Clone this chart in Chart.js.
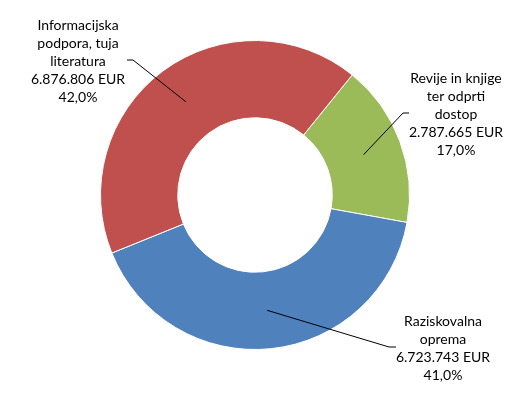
<!DOCTYPE html>
<html>
<head>
<meta charset="utf-8">
<script src="https://cdn.jsdelivr.net/npm/chart.js@4"></script>
<style>
  html, body { margin: 0; padding: 0; background: #fff; }
  #wrap { width: 508px; height: 393px; }
</style>
</head>
<body>
<div id="wrap"><canvas id="donutChart" width="508" height="393"></canvas></div>
<script>
// Data (clockwise from the top-right)
const categories = ['Revije in knjige ter odprti dostop', 'Raziskovalna oprema', 'Informacijska podpora, tuja literatura'];
const labelLines = [
    ['Revije in knjige', 'ter odprti', 'dostop'],
    ['Raziskovalna', 'oprema'],
    ['Informacijska', 'podpora, tuja', 'literatura']
];
const amounts = [2787665, 6723743, 6876806];
const sliceColors = ['#9BBB59', '#4F81BD', '#C0504D'];

// where each label block sits and how its leader line bends
const labelPlacement = [
    { x: 456, y: 78, elbowX: 403, elbowY: 113, endX: 409 },
    { x: 443, y: 321, elbowX: 389, elbowY: 347, endX: 396 },
    { x: 78, y: 25, elbowX: 133, elbowY: 60, endX: 127 }
];

const total = amounts.reduce((a, b) => a + b, 0);

function fmtEur(v) {
    return v.toString().replace(/\B(?=(\d{3})+(?!\d))/g, '.') + ' EUR';
}
function fmtPct(v) {
    return (v / total * 100).toFixed(1).replace('.', ',') + '%';
}

// Draw callout labels with leader lines anchored on each slice
const calloutPlugin = {
    id: 'callouts',
    afterDatasetsDraw(chart) {
        const ctx = chart.ctx;
        const meta = chart.getDatasetMeta(0);
        ctx.save();
        ctx.font = '14px Lato';
        ctx.fillStyle = '#000';
        ctx.textAlign = 'center';
        ctx.textBaseline = 'middle';
        ctx.strokeStyle = '#000';
        ctx.lineWidth = 1;
        meta.data.forEach((arc, i) => {
            const p = arc.tooltipPosition();
            const place = labelPlacement[i];
            ctx.beginPath();
            ctx.moveTo(p.x, p.y);
            ctx.lineTo(place.elbowX, place.elbowY);
            ctx.lineTo(place.endX, place.elbowY);
            ctx.stroke();

            const lines = labelLines[i].concat([fmtEur(amounts[i]), fmtPct(amounts[i])]);
            lines.forEach((line, k) => {
                ctx.fillText(line, place.x, place.y + k * 18);
            });
        });
        ctx.restore();
    }
};

const ctx = document.getElementById('donutChart').getContext('2d');
const donutChart = new Chart(ctx, {
    type: 'doughnut',
    data: {
        labels: categories,
        datasets: [{
            data: amounts,
            backgroundColor: sliceColors,
            borderColor: '#ffffff',
            borderWidth: 1
        }]
    },
    options: {
        responsive: false,
        animation: false,
        rotation: 39,
        cutout: '50%',
        layout: {
            padding: { top: 40, bottom: 43, left: 100, right: 98 }
        },
        plugins: {
            legend: { display: false },
            tooltip: { enabled: false }
        }
    },
    plugins: [calloutPlugin]
});
</script>
</body>
</html>
